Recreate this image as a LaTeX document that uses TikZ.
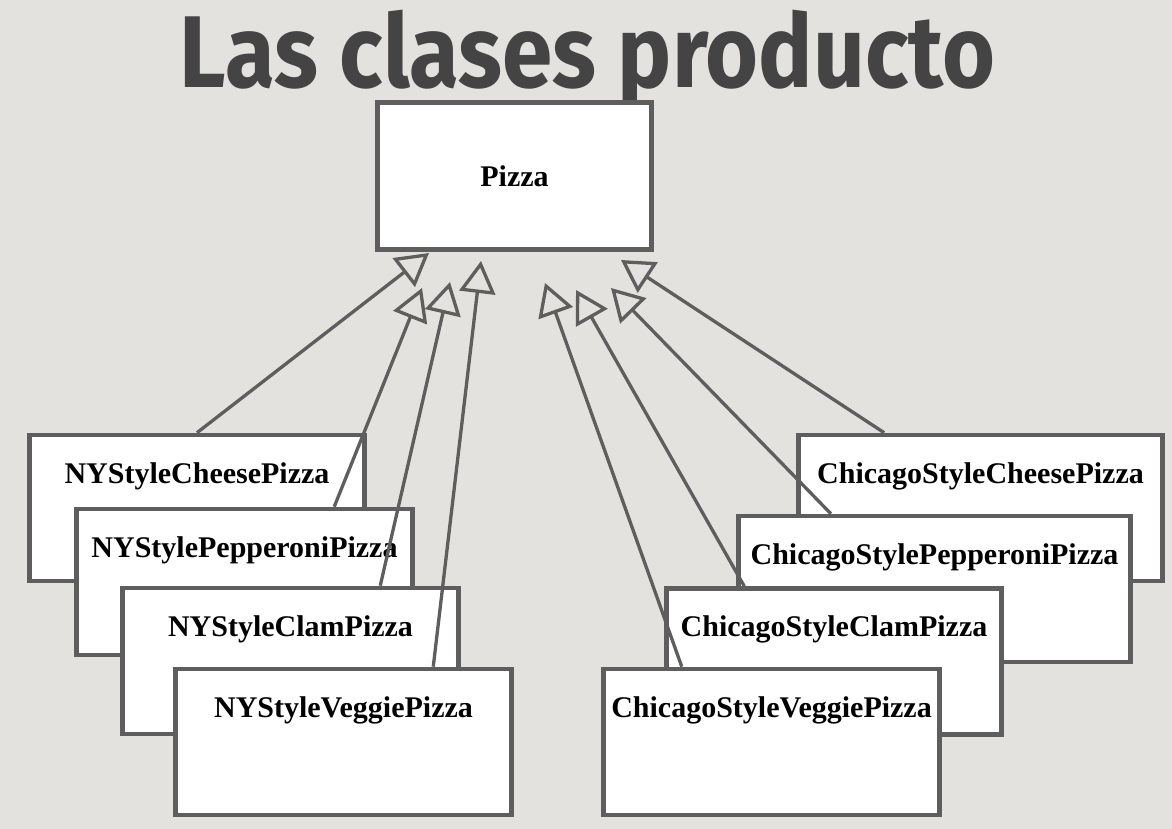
\documentclass[tikz,border=0pt]{standalone}
\usepackage{fontspec}
\setmainfont{Liberation Serif}
\newfontfamily\titlefont[FakeStretch=0.89]{Fira Sans}
\usetikzlibrary{arrows.meta}
\definecolor{slidebg}{HTML}{E3E2DE}
\definecolor{boxline}{HTML}{5E5E5E}
\definecolor{titlegray}{HTML}{444444}

\begin{document}
\begin{tikzpicture}[x=0.5pt, y=-0.5pt,
  box/.style={draw=boxline, line width=2.3pt, fill=white, inner sep=0pt,
    font=\fontsize{15pt}{18pt}\selectfont\bfseries},
  cls/.style={box, minimum width=167.75pt, text height=24pt, text depth=49pt},
  gen/.style={draw=boxline, line width=1.65pt,
    -{Triangle[open, length=16pt, width=18pt]}}]
  % background and title
  \fill[slidebg] (0,0) rectangle (1172,829);
  \node[anchor=base, text=titlegray,
    font=\titlefont\bfseries\fontsize{51pt}{60pt}\selectfont] (title) at (587.5,88) {Las clases producto};

  % superclass
  \node[box, minimum width=137.25pt, minimum height=73.25pt] (pizza) at (514.5,176) {Pizza};

  % NY style pizzas
  \node[cls] (nycheese) at (197,508) {NYStyleCheesePizza};
  \node[cls] (nypepperoni) at (244.5,582) {NYStylePepperoniPizza};
  \node[cls] (nyclam) at (290.5,661) {NYStyleClamPizza};
  \node[cls] (nyveggie) at (343.5,742) {NYStyleVeggiePizza};

  % Chicago style pizzas
  \node[cls, minimum width=182.25pt] (chcheese) at (980.5,508) {ChicagoStyleCheesePizza};
  \node[cls, minimum width=196.25pt] (chpepperoni) at (934.5,589) {ChicagoStylePepperoniPizza};
  \node[cls] (chclam) at (834,661.5) {ChicagoStyleClamPizza};
  \node[cls] (chveggie) at (771.5,742) {ChicagoStyleVeggiePizza};

  % generalization arrows, tips stop short of Pizza
  \coordinate (nycheese tip) at (429,253);
  \coordinate (nypepperoni tip) at (422,288);
  \coordinate (nyclam tip) at (450,282);
  \coordinate (nyveggie tip) at (481,261);
  \coordinate (chveggie tip) at (545,283);
  \coordinate (chclam tip) at (576,290);
  \coordinate (chpepperoni tip) at (611,288);
  \coordinate (chcheese tip) at (621,260);

  \draw[gen] (nycheese.north) -- (nycheese tip);
  \draw[gen] (nypepperoni.40) -- (nypepperoni tip);
  \draw[gen] (nyclam.40) -- (nyclam tip);
  \draw[gen] (nyveggie.40) -- (nyveggie tip);
  \draw[gen] (chveggie.140) -- (chveggie tip);
  \draw[gen] (chclam.140) -- (chclam tip);
  \draw[gen] (chpepperoni.144) -- (chpepperoni tip);
  \draw[gen] (chcheese.142) -- (chcheese tip);
\end{tikzpicture}
\end{document}
